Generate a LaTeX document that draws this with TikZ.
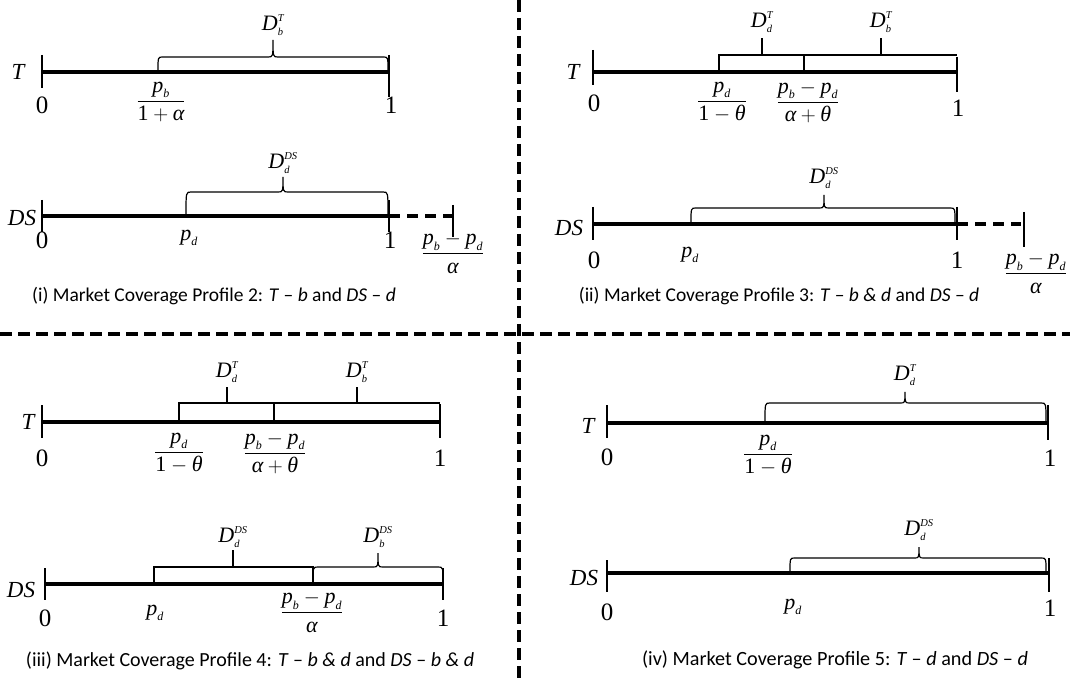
\documentclass[tikz,border=0pt]{standalone}
\usepackage{amsmath}
\usepackage{fontspec}
\setmainfont{Liberation Serif}
\newfontfamily\capfont{Carlito}
\newcommand{\mi}[1]{\text{\itshape #1}}
\newcommand{\sbx}[1]{\text{\fontsize{12}{12}\selectfont\itshape #1}}
\newcommand{\tnx}[1]{\text{\fontsize{10.5}{10.5}\selectfont\itshape #1}}
\newcommand{\Dlab}[2]{$\mi{D}^{\tnx{#2}}_{\tnx{#1}}$}
\newcommand{\pp}[1]{\mi{p}_{\sbx{#1}}}
\newcommand{\frc}[2]{$\dfrac{#1}{#2}$}
\newcommand{\brc}[6]{%
\draw[brc] (#1,#4) .. controls (#1,#5) .. (#1+5,#5) -- (#3-5,#5) .. controls (#3,#5) .. (#3,#6) .. controls (#3,#5) .. (#3+5,#5) -- (#2-5,#5) .. controls (#2,#5) .. (#2,#4);}
\tikzset{
  axis/.style={line width=4pt},
  ext/.style={line width=4pt, dash pattern=on 11pt off 7pt},
  tk/.style={line width=1.3pt},
  tkb/.style={line width=2pt},
  brc/.style={line width=1.2pt},
  divider/.style={line width=3.8pt, dash pattern=on 12pt off 6pt},
  lab/.style={inner sep=0pt, font=\fontsize{22}{26}\selectfont},
  axl/.style={inner sep=0pt, font=\fontsize{23}{27}\selectfont},
  num/.style={inner sep=0pt, font=\fontsize{25}{28}\selectfont},
  captxt/.style={inner sep=0pt, font=\capfont\fontsize{19.5}{22}\selectfont},
}
\begin{document}
\begin{tikzpicture}[x=1pt,y=-1pt]
\useasboundingbox (0,0) rectangle (1070,684);
% dividers
\draw[divider] (519,0) -- (519,684);
\draw[divider] (0,334) -- (1070,334);

% ===== Panel (i) T
\draw[axis] (42,72) -- (389,72);
\draw[tk] (42,55) -- (42,88);
\draw[tk] (389,55) -- (389,97);
\brc{158}{388}{273}{70}{57}{40}
\node[lab] (i-Dt) at (273,25) {\Dlab{b}{T}};
\node[axl] (i-T) at (18,72) {\mi{T}};
\node[num] (i-T0) at (42,105) {0};
\node[num] (i-T1) at (391,105) {1};
\node[lab] (i-Tf) at (161,102) {\frc{\pp{b}}{\text{1}+\mi{α}}};
% ===== Panel (i) DS
\draw[axis] (42,216) -- (389,216);
\draw[ext] (389,216) -- (453,216);
\draw[tk] (42,200) -- (42,232);
\draw[tk] (389,200) -- (389,232);
\draw[tk] (453,205) -- (453,237);
\brc{186}{388}{283}{214}{192}{177}
\node[lab] (i-Dd) at (283,163) {\Dlab{d}{DS}};
\node[axl] (i-DS) at (22,218) {\mi{DS}};
\node[num] (i-D0) at (42,240) {0};
\node[lab] (i-pd) at (189,238) {$\pp{d}$};
\node[num] (i-D1) at (390,240) {1};
\node[lab] (i-Df) at (453,253) {\frc{\pp{b}-\pp{d}}{\mi{α}}};
\node[captxt] (i-cap) at (214,296) {(i) Market Coverage Profile 2: \textit{T} – \textit{b} and \textit{DS} – \textit{d}};

% ===== Panel (ii) T
\draw[axis] (593,72) -- (957,72);
\draw[tk] (593,50) -- (593,85);
\draw[tk] (957,57) -- (957,92);
\draw[brc] (719,72) -- (719,55) -- (957,55);
\draw[tkb] (804,55) -- (804,72);
\draw[tkb] (762,55) -- (762,38);
\draw[tkb] (881,55) -- (881,38);
\node[lab] (ii-Dd) at (762,22) {\Dlab{d}{T}};
\node[lab] (ii-Db) at (881,22) {\Dlab{b}{T}};
\node[axl] (ii-T) at (573,72) {\mi{T}};
\node[num] (ii-T0) at (594,103) {0};
\node[num] (ii-T1) at (958,108) {1};
\node[lab] (ii-f1) at (722,102) {\frc{\pp{d}}{\text{1}-\mi{θ}}};
\node[lab] (ii-f2) at (808,102) {\frc{\pp{b}-\pp{d}}{\mi{α}+\mi{θ}}};
% ===== Panel (ii) DS
\draw[axis] (593,224) -- (957,224);
\draw[ext] (957,224) -- (1021,224);
\draw[tk] (593,207) -- (593,240);
\draw[tk] (957,207) -- (957,240);
\draw[tk] (1024,212) -- (1024,247);
\brc{691}{955}{824}{222}{208}{195}
\node[lab] (ii-DDd) at (824,178) {\Dlab{d}{DS}};
\node[axl] (ii-DS) at (569,228) {\mi{DS}};
\node[num] (ii-D0) at (594,260) {0};
\node[lab] (ii-pd) at (690,255) {$\pp{d}$};
\node[num] (ii-D1) at (957,260) {1};
\node[lab] (ii-Df) at (1036,273) {\frc{\pp{b}-\pp{d}}{\mi{α}}};
\node[captxt] (ii-cap) at (779,296) {(ii) Market Coverage Profile 3: \textit{T} – \textit{b} \textit{\&} \textit{d} and \textit{DS} – \textit{d}};

% ===== Panel (iii) T
\draw[axis] (42,422) -- (440,422);
\draw[tk] (42,405) -- (42,438);
\draw[tk] (440,404) -- (440,438);
\draw[brc] (179,422) -- (179,403) -- (440,403);
\draw[tkb] (274,403) -- (274,422);
\draw[tkb] (227,403) -- (227,387);
\draw[tkb] (357,403) -- (357,387);
\node[lab] (iii-Dd) at (227,372) {\Dlab{d}{T}};
\node[lab] (iii-Db) at (357,372) {\Dlab{b}{T}};
\node[axl] (iii-T) at (28,422) {\mi{T}};
\node[num] (iii-T0) at (42,458) {0};
\node[num] (iii-T1) at (440,458) {1};
\node[lab] (iii-f1) at (179,453) {\frc{\pp{d}}{\text{1}-\mi{θ}}};
\node[lab] (iii-f2) at (275,453) {\frc{\pp{b}-\pp{d}}{\mi{α}+\mi{θ}}};
% ===== Panel (iii) DS
\draw[axis] (45,584) -- (443,584);
\draw[tk] (45,568) -- (45,600);
\draw[tk] (443,568) -- (443,600);
\draw[brc] (154,584) -- (154,567) -- (313,567) -- (313,584);
\draw[tkb] (233,567) -- (233,550);
\brc{313}{443}{378}{582}{567}{553}
\node[lab] (iii-DDd) at (233,537) {\Dlab{d}{DS}};
\node[lab] (iii-DDb) at (378,537) {\Dlab{b}{DS}};
\node[axl] (iii-DS) at (21,590) {\mi{DS}};
\node[num] (iii-D0) at (45,618) {0};
\node[lab] (iii-pd) at (155,613) {$\pp{d}$};
\node[num] (iii-D1) at (443,618) {1};
\node[lab] (iii-Df) at (312,612) {\frc{\pp{b}-\pp{d}}{\mi{α}}};
\node[captxt, font=\capfont\fontsize{20}{22}\selectfont] (iii-cap) at (250,661) {(iii) Market Coverage Profile 4: \textit{T} – \textit{b} \textit{\&} \textit{d} and \textit{DS} – \textit{b} \textit{\&} \textit{d}};

% ===== Panel (iv) T
\draw[axis] (607,423) -- (1048,423);
\draw[tk] (607,405) -- (607,438);
\draw[tk] (1048,405) -- (1048,440);
\brc{765}{1046}{905}{421}{403}{392}
\node[lab] (iv-Dd) at (905,375) {\Dlab{d}{T}};
\node[axl] (iv-T) at (588,426) {\mi{T}};
\node[num] (iv-T0) at (607,457) {0};
\node[num] (iv-T1) at (1050,458) {1};
\node[lab] (iv-f1) at (768,455) {\frc{\pp{d}}{\text{1}-\mi{θ}}};
% ===== Panel (iv) DS
\draw[axis] (607,573) -- (1048,573);
\draw[tk] (607,560) -- (607,592);
\draw[tk] (1049,558) -- (1049,592);
\brc{790}{1046}{919}{571}{558}{547}
\node[lab] (iv-DDd) at (919,530) {\Dlab{d}{DS}};
\node[axl] (iv-DS) at (584,578) {\mi{DS}};
\node[num] (iv-D0) at (607,612) {0};
\node[lab] (iv-pd) at (793,607) {$\pp{d}$};
\node[num] (iv-D1) at (1050,608) {1};
\node[captxt, font=\capfont\fontsize{20.2}{22}\selectfont] (iv-cap) at (835,660) {(iv) Market Coverage Profile 5: \textit{T} – \textit{d} and \textit{DS} – \textit{d}};
\end{tikzpicture}
\end{document}
